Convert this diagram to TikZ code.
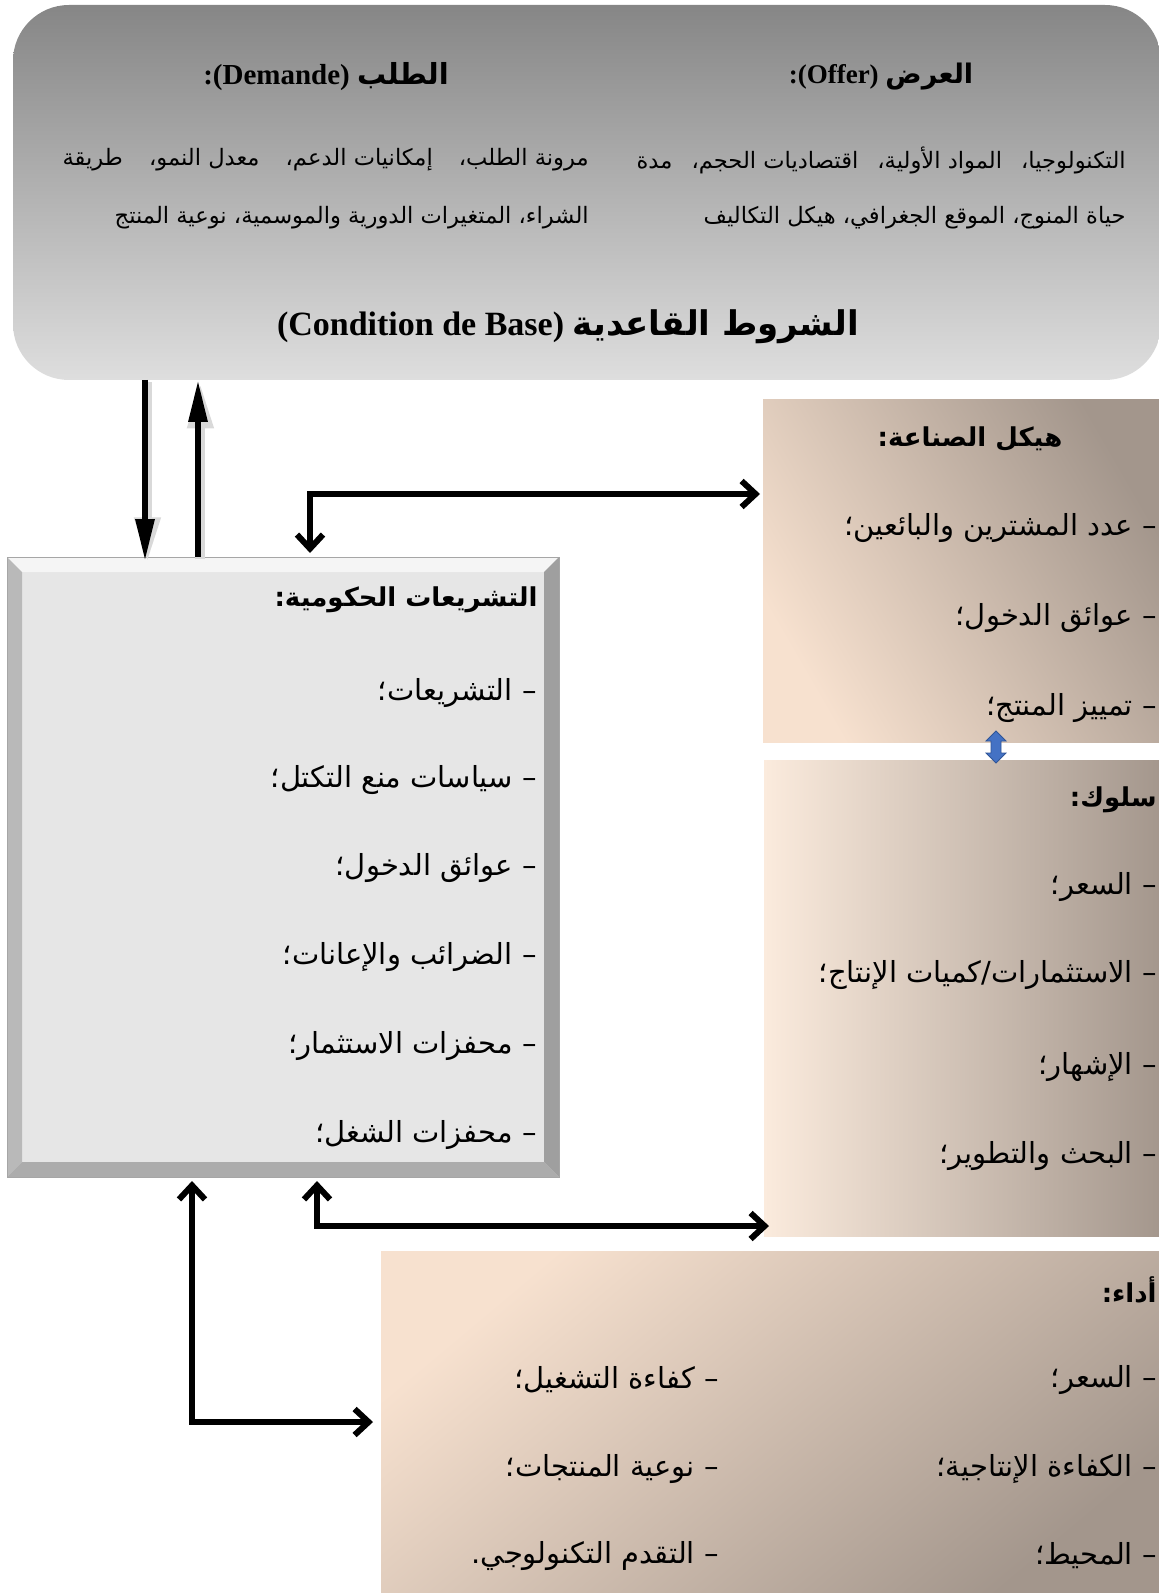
\documentclass[tikz,border=0pt]{standalone}
\usepackage{fontspec}
\setmainfont{Liberation Serif}
\newfontfamily\arf[Script=Arabic]{DejaVu Sans}
\TeXXeTstate=1
\usetikzlibrary{arrows.meta,calc}
\newcommand\RL[1]{\beginR#1\endR}
\definecolor{topdark}{HTML}{868686}
\definecolor{toplight}{HTML}{DEDEDE}
\definecolor{peach}{HTML}{F7E1CF}
\definecolor{peachl}{HTML}{FBEBDD}
\definecolor{taupe}{HTML}{A3968C}
\definecolor{govfill}{HTML}{E6E6E6}
\definecolor{arblue}{HTML}{4472C4}
\definecolor{arbluedk}{HTML}{2F5597}
\tikzset{
  artx/.style={font=\arf\fontsize{14.5}{16}\selectfont, inner sep=0pt},
  toptx/.style={font=\arf\fontsize{11.3}{13}\selectfont, inner sep=0pt},
  arhd/.style={font=\arf\bfseries\fontsize{13}{15}\selectfont, inner sep=0pt},
  boxnode/.style={inner sep=0pt, outer sep=0pt, anchor=north west},
  elbow/.style={line width=3pt, line join=miter,
    {Straight Barb[length=7pt,width=13pt,line join=miter]}-{Straight Barb[length=7pt,width=13pt,line join=miter]}},
  varrow/.style={line width=3pt, -{Triangle[length=21pt,width=9pt]}},
  vshadow/.style={line width=5pt, draw=gray!30, -{Triangle[length=23pt,width=12pt]}},
}
\begin{document}
\begin{tikzpicture}[x=0.5pt,y=-0.5pt]
\useasboundingbox (0,0) rectangle (1159,1593);
% ---- boxes
\node[boxnode, minimum width=574pt, minimum height=187.5pt, rounded corners=28pt,
      top color=topdark, bottom color=toplight] (base) at (13,5) {};
\node[boxnode, minimum width=200pt, minimum height=171pt,
      top color=taupe, bottom color=peach, shading angle=-60] (ind) at (763,400) {};
\node[boxnode, minimum width=200pt, minimum height=238pt,
      left color=peachl, middle color=peach!85!taupe, right color=taupe] (beh) at (764,760) {};
\node[boxnode, minimum width=392pt, minimum height=174pt,
      top color=peach, bottom color=taupe, shading angle=40] (perf) at (381,1251) {};
\node[boxnode, minimum width=276pt, minimum height=310pt, fill=govfill, draw=gray!60, line width=0.5pt] (gov) at (7,557) {};
% bevel of gov box
\fill[white!92!gray] (gov.north west) -- (gov.north east) -- ($(gov.north east)+(-15,15)$) -- ($(gov.north west)+(15,15)$) -- cycle;
\fill[gray!55] (gov.north west) -- ($(gov.north west)+(15,15)$) -- ($(gov.south west)+(15,-15)$) -- (gov.south west) -- cycle;
\fill[gray!75] (gov.north east) -- ($(gov.north east)+(-15,15)$) -- ($(gov.south east)+(-15,-15)$) -- (gov.south east) -- cycle;
\fill[gray!65] (gov.south west) -- ($(gov.south west)+(15,-15)$) -- ($(gov.south east)+(-15,-15)$) -- (gov.south east) -- cycle;
\draw[gray!70, line width=0.5pt] (gov.north west) rectangle (gov.south east);

% ---- top box texts
\node[inner sep=0pt, font=\fontsize{13.5}{15}\selectfont] (offh) at (881,77)
  {\textbf{:(Offer)} {\arf\bfseries\RL{العرض}}};
\node[inner sep=0pt, font=\fontsize{14.5}{16}\selectfont] (demh) at (326,77)
  {\textbf{:(Demande)} {\arf\bfseries\RL{الطلب}}};
\node[toptx, anchor=east] (off1) at (1126,160)
  {\hbox to 244.5pt{\RL{التكنولوجيا،\hfill المواد الأولية،\hfill اقتصاديات الحجم،\hfill مدة}}};
\node[toptx, anchor=east] (off2) at (1126,218) {\RL{حياة المنوج، الموقع الجغرافي، هيكل التكاليف}};
\node[toptx, anchor=east] (dem1) at (589,160)
  {\hbox to 263pt{\RL{مرونة الطلب،\hfill إمكانيات الدعم،\hfill معدل النمو،\hfill طريقة}}};
\node[toptx, anchor=east] (dem2) at (589,218) {\RL{الشراء، المتغيرات الدورية والموسمية، نوعية المنتج}};
\node[inner sep=0pt, font=\bfseries\fontsize{17}{19}\selectfont] (title) at (568,327)
  {(Condition de Base) {\arf\RL{الشروط القاعدية}}};

% ---- government box texts
\node[arhd, anchor=east] (govh) at (538,600) {\RL{التشريعات الحكومية:}};
\node[artx, anchor=east] (g1) at (537,693) {\RL{– التشريعات؛}};
\node[artx, anchor=east] (g2) at (537,780) {\RL{– سياسات منع التكتل؛}};
\node[artx, anchor=east] (g3) at (537,868) {\RL{– عوائق الدخول؛}};
\node[artx, anchor=east] (g4) at (537,957) {\RL{– الضرائب والإعانات؛}};
\node[artx, anchor=east] (g5) at (537,1046) {\RL{– محفزات الاستثمار؛}};
\node[artx, anchor=east] (g6) at (537,1135) {\RL{– محفزات الشغل؛}};

% ---- industry structure
\node[arhd] (indh) at (970,439) {\RL{هيكل الصناعة:}};
\node[artx, anchor=east] (i1) at (1157,528) {\RL{– عدد المشترين والبائعين؛}};
\node[artx, anchor=east] (i2) at (1157,618) {\RL{– عوائق الدخول؛}};
\node[artx, anchor=east] (i3) at (1157,708) {\RL{– تمييز المنتج؛}};

% ---- behaviour
\node[arhd, anchor=east] (behh) at (1157,800) {\RL{سلوك:}};
\node[artx, anchor=east] (b1) at (1157,887) {\RL{– السعر؛}};
\node[artx, anchor=east] (b2) at (1157,975) {\RL{– الاستثمارات\kern0pt/\kern0pt كميات الإنتاج؛}};
\node[artx, anchor=east] (b3) at (1157,1067) {\RL{– الإشهار؛}};
\node[artx, anchor=east] (b4) at (1157,1156) {\RL{– البحث والتطوير؛}};

% ---- performance
\node[arhd, anchor=east] (perfh) at (1157,1290) {\RL{أداء:}};
\node[artx, anchor=east] (p1) at (1157,1380) {\RL{– السعر؛}};
\node[artx, anchor=east] (p2) at (1157,1469) {\RL{– الكفاءة الإنتاجية؛}};
\node[artx, anchor=east] (p3) at (1157,1556) {\RL{– المحيط؛}};
\node[artx, anchor=east] (p4) at (719,1380) {\RL{– كفاءة التشغيل؛}};
\node[artx, anchor=east] (p5) at (719,1469) {\RL{– نوعية المنتجات؛}};
\node[artx, anchor=east] (p6) at (719,1556) {\RL{– التقدم التكنولوجي.}};

% ---- connector positions
\coordinate (xa) at (145,0);
\coordinate (xb) at (198,0);
\coordinate (xc) at (310,0);
\coordinate (xd) at (317,0);
\coordinate (xe) at (192,0);
\coordinate (ya) at (0,494);
\coordinate (yb) at (0,1226);
\coordinate (yc) at (0,1422);

% vertical arrows between base and gov
\draw[vshadow, transform canvas={shift={(1.2pt,-1.2pt)}}] (base.south -| xa) -- ([yshift=-2pt]gov.north -| xa);
\draw[varrow] (base.south -| xa) -- ([yshift=-2pt]gov.north -| xa);
\draw[vshadow, transform canvas={shift={(1.2pt,-1.2pt)}}] (gov.north -| xb) -- (base.south -| xb);
\draw[varrow] (gov.north -| xb) -- (base.south -| xb);

% elbow connectors
\draw[elbow] ([yshift=2pt]gov.north -| xc) |- ([xshift=-1.5pt]ind.west |- ya);
\draw[elbow] ([yshift=-2pt]gov.south -| xd) |- ([xshift=2.5pt]beh.west |- yb);
\draw[elbow] ([yshift=-2pt]gov.south -| xe) |- ([xshift=-4pt]perf.west |- yc);

% small blue double arrow between ind and beh
\filldraw[fill=arblue, draw=arbluedk, line width=0.4pt]
  (996,731) -- (1006,741) -- (1001,741) -- (1001,753) -- (1006,753) -- (996,763)
  -- (986,753) -- (991,753) -- (991,741) -- (986,741) -- cycle;
\end{tikzpicture}
\end{document}
